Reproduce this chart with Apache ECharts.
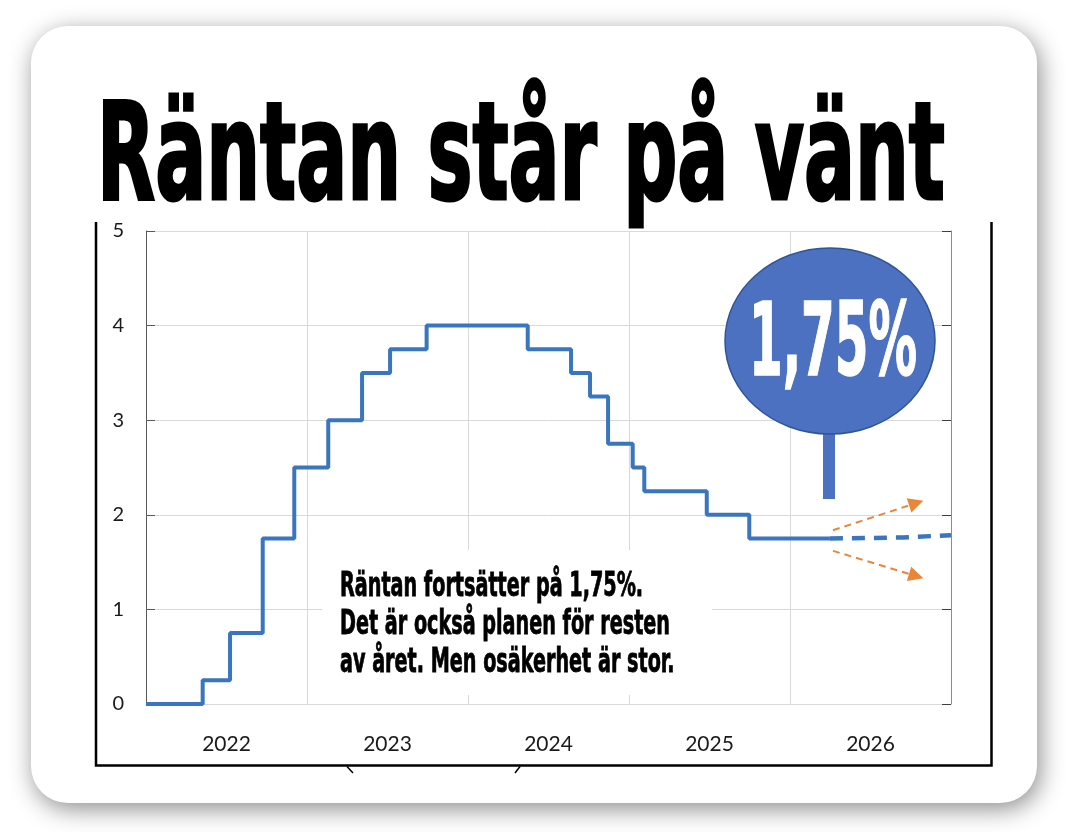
<!DOCTYPE html>
<html><head><meta charset="utf-8">
<script src="https://cdn.jsdelivr.net/npm/echarts@6/dist/echarts.min.js"></script>
<style>html,body{margin:0;padding:0;background:#fff;}#c{width:1084px;height:832px;}</style>
</head><body><div id="c"></div>
<script>
// ---- data ----
const yearLabels = ['2022', '2023', '2024', '2025', '2026'];
const rateDates = [2022.0, 2022.352, 2022.522, 2022.725, 2022.921, 2023.132, 2023.342, 2023.516, 2023.743,
  2024.371, 2024.640, 2024.758, 2024.870, 2025.023, 2025.095, 2025.483, 2025.747, 2026.248];
const rateValues = [0, 0.25, 0.75, 1.75, 2.5, 3.0, 3.5, 3.75, 4.0,
  3.75, 3.5, 3.25, 2.75, 2.5, 2.25, 2.0, 1.75, 1.75];
const forecastDates = [2026.248, 2026.70, 2027.0];
const forecastValues = [1.75, 1.76, 1.785];
const scenarioUp = [[2026.267, 1.837], [2026.784, 2.124]];
const scenarioDown = [[2026.267, 1.619], [2026.784, 1.352]];
const titleText = 'Räntan står på vänt';
const noteLines = ['Räntan fortsätter på 1,75%.', 'Det är också planen för resten', 'av året. Men osäkerhet är stor.'];
const bubbleText = '1,75%';

// ---- helpers ----
const COND = '"Liberation Sans Narrow", "DejaVu Sans Condensed", "Roboto", sans-serif';
const AXISFONT = 'Lato, "Open Sans", sans-serif';
const mctx = document.createElement('canvas').getContext('2d');
function textWidth(str, font) { mctx.font = font; return mctx.measureText(str).width; }

const titleFont = 'bold 136px ' + COND;
const titleScale = 848 / textWidth(titleText, titleFont);
const noteFont = 'bold 33px ' + COND;
const noteScale = 330 / textWidth(noteLines[1], noteFont);
const bubbleFont = 'bold 101px ' + COND;
const bubbleScale = 168 / textWidth(bubbleText, bubbleFont);

const rateData = rateDates.map((d, i) => [d, rateValues[i]]);
const forecastData = forecastDates.map((d, i) => [d, forecastValues[i]]);

const BLUE = '#3a76bf';
const ORANGE = '#e8873a';
const BUBBLE = '#4c71c0';

const chart = echarts.init(document.getElementById('c'), null, { renderer: 'canvas' });

const graphics = [
  { type: 'rect', z: -100, shape: { x: 31, y: 26, width: 1006, height: 777, r: 37 },
    style: { fill: '#fff', shadowBlur: 24, shadowColor: 'rgba(0,0,0,0.45)', shadowOffsetX: 3, shadowOffsetY: 6 } },
  { type: 'polyline', z: 50, shape: { points: [[96, 222], [96, 765.5], [991.5, 765.5], [991.5, 222]] },
    style: { stroke: '#000', lineWidth: 2.5, fill: null } },
  { type: 'polyline', z: 50, shape: { points: [[347, 766.5], [353, 773]] }, style: { stroke: '#000', lineWidth: 1.5, fill: null } },
  { type: 'polyline', z: 50, shape: { points: [[520, 766.5], [515, 773]] }, style: { stroke: '#000', lineWidth: 1.5, fill: null } },
  { type: 'text', z: 50, x: 97, y: 164, scaleX: titleScale,
    style: { text: titleText, font: titleFont, fill: '#000', stroke: '#000', lineWidth: 3,
      align: 'left', verticalAlign: 'middle' } },
  { type: 'rect', z: 20, shape: { x: 322, y: 550, width: 390, height: 145 }, style: { fill: '#fff' } },
  { type: 'rect', z: 21, shape: { x: 823, y: 425, width: 12, height: 74 }, style: { fill: BUBBLE } },
  { type: 'ellipse', z: 22, shape: { cx: 830, cy: 341, rx: 105, ry: 93 },
    style: { fill: BUBBLE, stroke: '#2f5597', lineWidth: 1.5 } },
  { type: 'text', z: 23, x: 833, y: 349, scaleX: bubbleScale,
    style: { text: bubbleText, font: bubbleFont, fill: '#fff', stroke: '#fff', lineWidth: 1.5,
      align: 'center', verticalAlign: 'middle' } }
];
const lineCenters = [587, 625, 663];
noteLines.forEach((t, i) => {
  graphics.push({ type: 'text', z: 25, x: 340, y: lineCenters[i], scaleX: noteScale,
    style: { text: t, font: noteFont, fill: '#000', stroke: '#000', lineWidth: 0.8,
      align: 'left', verticalAlign: 'middle' } });
});

const option = {
  backgroundColor: 'transparent',
  animation: false,
  grid: { left: 146, right: 133, top: 231, bottom: 128, outerBoundsMode: 'none', containLabel: false },
  xAxis: [
    { type: 'value', min: 2022, max: 2027, interval: 1, position: 'bottom',
      axisLine: { show: true, lineStyle: { color: '#d9d9d9', width: 1 } },
      axisTick: { show: false }, axisLabel: { show: false },
      splitLine: { show: true, lineStyle: { color: '#d9d9d9', width: 1 } } },
    { type: 'category', data: yearLabels, boundaryGap: true, position: 'bottom', offset: 0,
      axisLine: { show: false }, axisTick: { show: false }, splitLine: { show: false },
      axisLabel: { show: true, margin: 30, fontSize: 21, color: '#1a1a1a', fontFamily: AXISFONT } }
  ],
  yAxis: [
    { type: 'value', min: 0, max: 5, interval: 1, position: 'left',
      axisLine: { show: true, lineStyle: { color: '#595959', width: 1 } },
      axisTick: { show: true, inside: true, length: 9, lineStyle: { color: '#595959' } },
      axisLabel: { margin: 22, fontSize: 20, color: '#1a1a1a', fontFamily: AXISFONT },
      splitLine: { show: true, lineStyle: { color: '#d9d9d9', width: 1 } } },
    { type: 'value', min: 0, max: 5, interval: 1, position: 'right',
      axisLine: { show: true, lineStyle: { color: '#8c8c8c', width: 1 } },
      axisTick: { show: true, inside: true, length: 9, lineStyle: { color: '#404040' } },
      axisLabel: { show: false }, splitLine: { show: false } }
  ],
  series: [
    { name: 'Styrränta', type: 'line', xAxisIndex: 0, yAxisIndex: 0, data: rateData, step: 'end',
      showSymbol: false, symbol: 'none', z: 5,
      lineStyle: { color: BLUE, width: 4 } },
    { name: 'Prognos', type: 'line', xAxisIndex: 0, yAxisIndex: 0, data: forecastData,
      showSymbol: false, symbol: 'none', z: 5,
      lineStyle: { color: BLUE, width: 4.5, type: [13, 9] },
      markLine: {
        silent: true, symbol: ['none', 'triangle'], symbolSize: [15, 15],
        label: { show: false },
        lineStyle: { color: ORANGE, width: 2, type: [7, 5] },
        itemStyle: { color: ORANGE },
        data: [
          [{ coord: scenarioUp[0] }, { coord: scenarioUp[1] }],
          [{ coord: scenarioDown[0] }, { coord: scenarioDown[1] }]
        ]
      } }
  ],
  graphic: { elements: graphics }
};
chart.setOption(option);
</script></body></html>
